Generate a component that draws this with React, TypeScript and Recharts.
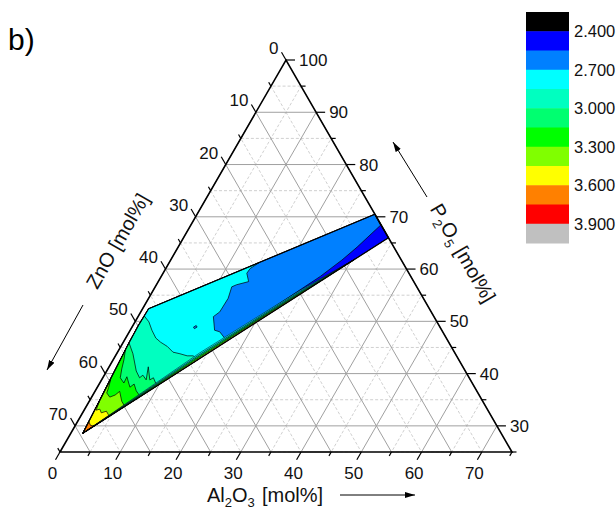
import React from 'react';
import { ScatterChart, Scatter, XAxis, YAxis } from 'recharts';

// Compositions are [Al2O3, P2O5] in mol%; ZnO is the rest up to 100.
type Comp = [number, number];

const P_BASE = 25; // P2O5 content along the bottom edge
const SPAN = 75; // edge length of the zoomed triangle, mol%
const TRI_H = (SPAN * Math.sqrt(3)) / 2;

// axis ticks
const alMajor = [0, 10, 20, 30, 40, 50, 60, 70];
const alMinor = [5, 15, 25, 35, 45, 55, 65, 75];
const znMajor = [0, 10, 20, 30, 40, 50, 60, 70];
const znMinor = [5, 15, 25, 35, 45, 55, 65, 75];
const pMajor = [30, 40, 50, 60, 70, 80, 90, 100];
const pMinor = [25, 35, 45, 55, 65, 75, 85, 95];

// colour scale, top to bottom
const levelColors = ['#000000', '#0000FF', '#0080FF', '#00FFFF', '#00FFC0', '#00FF70', '#00FF00', '#80FF00', '#FFFF00', '#FF8000', '#FF0000', '#C0C0C0'];
const levelLabels = ['2.400', '2.700', '3.000', '3.300', '3.600', '3.900'];

// measured glass-forming region
const outline: Comp[] = [[2.0, 28.6], [1.0, 45.9], [0.9, 49.3], [1.0, 52.4], [29.5, 70.5], [34.0, 66.0]];

// filled contour bands, lowest level first; each one is painted over the previous
const band2400: Comp[] = outline;
const band2550: Comp[] = [[2.0, 28.6], [1.0, 45.9], [0.9, 49.3], [1.0, 52.4], [29.5, 70.5], [31.5, 68.4], [29.7, 64.2], [28.4, 61.7], [26.4, 58.6], [24.3, 56.0]];
const band2700: Comp[] = [[2.0, 28.6], [1.0, 45.9], [0.9, 49.3], [1.0, 52.4], [14.9, 61.2], [14.0, 60.1], [13.9, 59.2], [15.0, 57.6], [13.3, 57.0], [12.7, 56.6], [13.2, 54.4], [13.1, 51.8], [12.5, 50.9], [14.0, 48.3], [15.0, 48.0], [17.0, 46.3]];
const band2850: Comp[] = [[2.0, 28.6], [1.0, 45.9], [0.9, 49.3], [1.0, 51.0], [2.3, 49.9], [3.6, 48.3], [5.0, 46.8], [6.2, 46.0], [7.7, 45.2], [9.2, 44.1], [10.5, 43.8], [11.9, 43.4], [12.9, 43.4], [14.0, 42.6]];
const band3000: Comp[] = [[2.0, 28.6], [1.0, 45.9], [2.7, 43.8], [4.9, 40.5], [6.1, 39.2], [6.4, 39.7], [7.4, 38.8], [6.5, 41.3], [8.0, 38.8], [8.4, 39.2], [9.7, 37.7]];
const band3150: Comp[] = [[2.0, 28.6], [1.1, 44.5], [1.8, 42.6], [2.3, 40.9], [2.9, 39.2], [4.0, 38.2], [3.9, 39.4], [5.4, 37.4], [5.8, 38.0], [6.8, 36.7], [7.9, 35.7]];
const band3300: Comp[] = [[2.0, 28.6], [1.5, 38.8], [1.9, 37.3], [2.1, 36.3], [3.0, 35.5], [3.7, 35.9], [4.1, 36.6], [5.4, 34.7], [6.3, 33.8]];
const band3450: Comp[] = [[2.0, 28.6], [1.7, 34.6], [2.0, 33.0], [2.5, 33.2], [3.1, 32.5], [3.8, 32.8], [4.4, 32.2], [4.7, 31.9]];
const band3600: Comp[] = [[2.0, 28.6], [1.9, 30.8], [2.5, 30.1], [3.0, 30.0], [3.25, 30.1]];
// small closed contour inside the 2.70 band
const island2550: Comp[] = [[10.8, 48.9], [10.5, 49.2], [10.2, 48.9], [10.5, 48.6]];

// tightly packed contours along the lower rim, from the rim upwards
const rim0: Comp[] = [[2.0, 28.6], [14.26, 42.92], [24.72, 55.15], [30.48, 61.89]];
const rim1: Comp[] = [[2.0, 28.6], [14.13, 43.19], [24.62, 55.34], [30.48, 61.89]];
const rim2: Comp[] = [[2.0, 28.6], [13.99, 43.46], [24.53, 55.53], [30.48, 61.89]];
const rim3: Comp[] = [[2.0, 28.6], [13.86, 43.72], [24.43, 55.72], [30.48, 61.89]];
const rim4: Comp[] = [[2.0, 28.6], [13.72, 43.99], [24.34, 55.92], [30.48, 61.89]];
const rimColors = ['#FFFF00', '#00FF00', '#00FFC0', '#00FFFF'];

const toXY = ([a, p]: Comp) => ({ x: a + (p - P_BASE) / 2, y: ((p - P_BASE) * Math.sqrt(3)) / 2 });

const bands = [
  { pts: band2400, color: levelColors[1] },
  { pts: band2550, color: levelColors[2] },
  { pts: band2700, color: levelColors[3] },
  { pts: band2850, color: levelColors[4] },
  { pts: band3000, color: levelColors[5] },
  { pts: band3150, color: levelColors[6] },
  { pts: band3300, color: levelColors[7] },
  { pts: band3450, color: levelColors[8] },
  { pts: band3600, color: levelColors[9] },
  { pts: island2550, color: levelColors[2] },
];

const rimEdges = [rim0, rim1, rim2, rim3, rim4];
const rimBands = rimColors.map((color, i) => ({
  pts: [...rimEdges[i], ...rimEdges[i + 1].slice().reverse()],
  color,
}));

// grid lines: one zigzag series per family, the joins run along the frame
const zigzag = (segs: Comp[][]) => segs.flatMap((s, i) => (i % 2 ? [s[1], s[0]] : s));
const pLine = (p: number): Comp[] => [[0, p], [100 - p, p]];
const alLine = (a: number): Comp[] => [[a, P_BASE], [a, 100 - a]];
const znLine = (z: number): Comp[] => [[0, 100 - z], [SPAN - z, P_BASE]];
const inner = (v: number[], lo: number, hi: number) => v.filter((x) => x > lo && x < hi);

const gridMajor = [
  zigzag(inner(pMajor, 25, 100).map(pLine)),
  zigzag(inner(alMajor, 0, 75).map(alLine)),
  zigzag(inner(znMajor, 0, 75).map(znLine)),
];
const gridMinor = [
  zigzag(inner(pMinor, 25, 100).map(pLine)),
  zigzag(inner(alMinor, 0, 75).map(alLine)),
  zigzag(inner(znMinor, 0, 75).map(znLine)),
];

const frame: Comp[] = [[0, P_BASE], [SPAN, P_BASE], [0, 100]];

const tickData = [
  ...znMajor.map((z) => ({ ...toXY([0, 100 - z]), axis: 'zn', label: String(z) })),
  ...znMinor.map((z) => ({ ...toXY([0, 100 - z]), axis: 'zn' })),
  ...alMajor.map((a) => ({ ...toXY([a, P_BASE]), axis: 'al', label: String(a) })),
  ...alMinor.map((a) => ({ ...toXY([a, P_BASE]), axis: 'al' })),
  ...pMajor.map((p) => ({ ...toXY([100 - p, p]), axis: 'p', label: String(p) })),
  ...pMinor.map((p) => ({ ...toXY([100 - p, p]), axis: 'p' })),
];

const tickDir: Record<string, [number, number]> = {
  zn: [-0.5, -0.866],
  al: [-0.5, 0.866],
  p: [1, 0],
};

const noDot = () => <g />;

const AxisTick = (props: any) => {
  const { cx, cy, payload } = props;
  const [dx, dy] = tickDir[payload.axis];
  const hasLabel = payload.label != null;
  const len = hasLabel ? 9 : 4.5;
  let label = null;
  if (hasLabel) {
    let x = cx + 13;
    let y = cy + 6;
    let anchor = 'start';
    if (payload.axis === 'zn') {
      x = cx - 7.5;
      y = cy - 6;
      anchor = 'end';
    } else if (payload.axis === 'al') {
      x = cx - 7.5;
      y = cy + 27;
      anchor = 'middle';
    }
    label = (
      <text x={x} y={y} textAnchor={anchor} fontSize={17} fill="#111">
        {payload.label}
      </text>
    );
  }
  return (
    <g>
      <line x1={cx} y1={cy} x2={cx + dx * len} y2={cy + dy * len} stroke="#000" strokeWidth={1.2} />
      {label}
    </g>
  );
};

const FONT = 'Arial, "Liberation Sans", Helvetica, sans-serif';

export default function App() {
  return (
    <div style={{ position: 'absolute', left: 0, top: 0, width: 616, height: 509, background: '#fff', fontFamily: FONT }}>
      <ScatterChart width={616} height={509} margin={{ top: 60, right: 104, bottom: 57, left: 60 }}>
        <XAxis type="number" dataKey="x" domain={[0, SPAN]} hide />
        <YAxis type="number" dataKey="y" domain={[0, TRI_H]} hide />

        {gridMinor.map((pts, i) => (
          <Scatter
            key={`minor-${i}`}
            data={pts.map(toXY)}
            line={{ stroke: '#c4c4c4', strokeWidth: 0.8, strokeDasharray: '3 2', fill: 'none' }}
            shape={noDot}
            isAnimationActive={false}
          />
        ))}
        {gridMajor.map((pts, i) => (
          <Scatter
            key={`major-${i}`}
            data={pts.map(toXY)}
            line={{ stroke: '#a0a0a0', strokeWidth: 1, fill: 'none' }}
            shape={noDot}
            isAnimationActive={false}
          />
        ))}

        {bands.map((b, i) => (
          <Scatter
            key={`band-${i}`}
            data={b.pts.map(toXY)}
            line={{ fill: b.color, stroke: '#000', strokeWidth: 0.7, strokeLinejoin: 'round' }}
            lineJointType="linearClosed"
            shape={noDot}
            isAnimationActive={false}
          />
        ))}
        {rimBands.map((b, i) => (
          <Scatter
            key={`rim-${i}`}
            data={b.pts.map(toXY)}
            line={{ fill: b.color, stroke: '#000', strokeWidth: 0.5 }}
            lineJointType="linearClosed"
            shape={noDot}
            isAnimationActive={false}
          />
        ))}
        <Scatter
          data={outline.map(toXY)}
          line={{ fill: 'none', stroke: '#000', strokeWidth: 1.2, strokeLinejoin: 'round' }}
          lineJointType="linearClosed"
          shape={noDot}
          isAnimationActive={false}
        />

        <Scatter
          data={frame.map(toXY)}
          line={{ fill: 'none', stroke: '#000', strokeWidth: 1.6 }}
          lineJointType="linearClosed"
          shape={noDot}
          isAnimationActive={false}
        />
        <Scatter data={tickData} shape={AxisTick} isAnimationActive={false} />
      </ScatterChart>

      <svg width={616} height={509} style={{ position: 'absolute', left: 0, top: 0, pointerEvents: 'none' }} fontFamily={FONT}>
        <defs>
          <marker id="head" markerWidth={10} markerHeight={6} refX={10} refY={3} orient="auto" markerUnits="userSpaceOnUse">
            <path d="M0,0 L10,3 L0,6 z" fill="#000" />
          </marker>
        </defs>

        <text x={8} y={50} fontSize={30} fill="#000">b)</text>

        {/* Al2O3 axis title */}
        <text x={207} y={502} fontSize={20} fill="#111">
          Al<tspan fontSize={13} dy={5}>2</tspan>
          <tspan dy={-5}>O</tspan>
          <tspan fontSize={13} dy={5}>3</tspan>
          <tspan x={262} dy={-5}>[mol%]</tspan>
        </text>
        <line x1={340} y1={495} x2={415} y2={495} stroke="#000" strokeWidth={1} markerEnd="url(#head)" />

        {/* ZnO axis title */}
        <text transform="translate(117.5,241) rotate(-60)" x={0} y={7} textAnchor="middle" fontSize={20} fill="#111">
          ZnO [mol%]
        </text>
        <line x1={83} y1={305} x2={47} y2={370} stroke="#000" strokeWidth={1} markerEnd="url(#head)" />

        {/* P2O5 axis title */}
        <text transform="translate(463,253) rotate(60)" x={0} y={7} textAnchor="middle" fontSize={20} fill="#111">
          P<tspan fontSize={13} dy={5}>2</tspan>
          <tspan dy={-5}>O</tspan>
          <tspan fontSize={13} dy={5}>5</tspan>
          <tspan dy={-5}> [mol%]</tspan>
        </text>
        <line x1={427} y1={197} x2={393} y2={142} stroke="#000" strokeWidth={1} markerEnd="url(#head)" />

        {/* colour scale */}
        {levelColors.map((c, i) => (
          <rect key={c} x={526} y={12 + i * 19.25} width={43} height={19.75} fill={c} />
        ))}
        {levelLabels.map((t, i) => (
          <text key={t} x={574} y={12 + (2 * i + 1) * 19.25 + 6} fontSize={16.5} fill="#111">
            {t}
          </text>
        ))}
      </svg>
    </div>
  );
}
